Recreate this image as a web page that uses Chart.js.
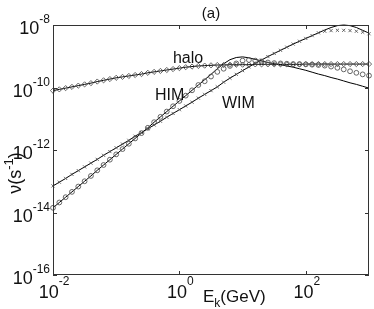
<!DOCTYPE html>
<html><head><meta charset="utf-8">
<script src="https://cdn.jsdelivr.net/npm/chart.js@4/dist/chart.umd.min.js"></script>
<style>html,body{margin:0;padding:0;background:#fff}canvas{display:block}</style>
</head><body>
<canvas id="c" width="374" height="309"></canvas>
<script>
// Kinetic energy E_k (GeV)
const energies = [0.01,0.01259,0.01585,0.01995,0.02512,0.03162,0.03981,0.05012,0.0631,0.07943,
  0.1,0.1259,0.1585,0.1995,0.2512,0.3162,0.3981,0.5012,0.631,0.7943,
  1,1.259,1.585,1.995,2.512,3.162,3.981,5.012,6.31,7.943,
  10,12.59,15.85,19.95,25.12,31.62,39.81,50.12,63.1,79.43,
  100,125.9,158.5,199.5,251.2,316.2,398.1,501.2,631,794.3,1000];
// log10 of nu (s^-1)
const haloExp = [-10.10,-10.06,-10.02,-9.98,-9.94,-9.90,-9.86,-9.81,-9.77,-9.73,
  -9.69,-9.66,-9.63,-9.60,-9.57,-9.53,-9.50,-9.47,-9.44,-9.41,
  -9.38,-9.35,-9.33,-9.31,-9.30,-9.29,-9.28,-9.28,-9.27,-9.27,
  -9.27,-9.27,-9.26,-9.26,-9.26,-9.26,-9.26,-9.26,-9.26,-9.26,
  -9.25,-9.25,-9.25,-9.25,-9.25,-9.25,-9.25,-9.25,-9.25,-9.25,-9.25];
const himLineExp = [-13.85,-13.68,-13.51,-13.34,-13.17,-13.00,-12.83,-12.65,-12.48,-12.31,
  -12.14,-11.97,-11.80,-11.63,-11.46,-11.29,-11.11,-10.94,-10.77,-10.60,
  -10.43,-10.26,-10.09,-9.92,-9.75,-9.58,-9.40,-9.24,-9.11,-9.04,
  -9.02,-9.05,-9.10,-9.15,-9.20,-9.24,-9.27,-9.31,-9.35,-9.40,
  -9.45,-9.51,-9.57,-9.62,-9.68,-9.73,-9.79,-9.85,-9.90,-9.96,-10.02];
const himMarkExp = [-13.85,-13.68,-13.51,-13.34,-13.17,-13.00,-12.83,-12.65,-12.48,-12.31,
  -12.14,-11.97,-11.80,-11.63,-11.46,-11.29,-11.11,-10.94,-10.77,-10.60,
  -10.43,-10.26,-10.09,-9.92,-9.80,-9.65,-9.50,-9.40,-9.31,-9.23,
  -9.14,-9.12,-9.14,-9.17,-9.20,-9.22,-9.23,-9.24,-9.25,-9.25,
  -9.26,-9.27,-9.28,-9.30,-9.33,-9.37,-9.42,-9.48,-9.53,-9.58,-9.62];
const wimLineExp = [-13.15,-13.03,-12.91,-12.78,-12.66,-12.54,-12.42,-12.30,-12.17,-12.05,
  -11.93,-11.81,-11.69,-11.56,-11.44,-11.32,-11.20,-11.08,-10.95,-10.83,
  -10.71,-10.59,-10.47,-10.34,-10.22,-10.10,-9.98,-9.83,-9.70,-9.58,
  -9.46,-9.34,-9.23,-9.12,-9.01,-8.91,-8.81,-8.71,-8.61,-8.52,
  -8.43,-8.34,-8.25,-8.16,-8.08,-8.02,-8.00,-8.02,-8.08,-8.17,-8.26];
const wimMarkExp = [-13.15,-13.03,-12.91,-12.78,-12.66,-12.54,-12.42,-12.30,-12.17,-12.05,
  -11.93,-11.81,-11.69,-11.56,-11.44,-11.32,-11.20,-11.08,-10.95,-10.83,
  -10.71,-10.59,-10.47,-10.34,-10.22,-10.10,-9.98,-9.83,-9.70,-9.58,
  -9.46,-9.34,-9.23,-9.12,-9.01,-8.91,-8.81,-8.71,-8.61,-8.52,
  -8.43,-8.34,-8.25,-8.20,-8.18,-8.17,-8.17,-8.18,-8.20,-8.23,-8.28];
const xTickExps = [-2, 0, 2];
const yTickExps = [-16, -14, -12, -10, -8];
const curveNames = ['halo', 'HIM', 'WIM'];

const pts = (exps) => energies.map((e, i) => ({x: e, y: Math.pow(10, exps[i])}));
const FONT = '"Liberation Sans", Arial, Helvetica, sans-serif';
const GREY = '#555';

const deco = {
  id: 'deco',
  afterDraw(chart) {
    const {ctx, chartArea: a, scales: {x, y}} = chart;
    ctx.save();
    ctx.strokeStyle = '#333';
    ctx.lineWidth = 1;
    ctx.strokeRect(a.left + 0.5, a.top + 0.5, a.right - a.left - 1, a.bottom - a.top - 1);
    const tl = 4;
    ctx.beginPath();
    yTickExps.forEach(e => {
      const py = Math.round(y.getPixelForValue(Math.pow(10, e))) + 0.5;
      ctx.moveTo(a.left, py); ctx.lineTo(a.left + tl, py);
      ctx.moveTo(a.right, py); ctx.lineTo(a.right - tl, py);
    });
    xTickExps.forEach(e => {
      const px = Math.round(x.getPixelForValue(Math.pow(10, e))) + 0.5;
      ctx.moveTo(px, a.bottom); ctx.lineTo(px, a.bottom - tl);
      ctx.moveTo(px, a.top); ctx.lineTo(px, a.top + tl);
    });
    ctx.stroke();

    ctx.fillStyle = '#111';
    ctx.textBaseline = 'alphabetic';
    ctx.textAlign = 'left';
    const bigF = '18px ' + FONT, supF = '12px ' + FONT;
    // y tick labels
    yTickExps.forEach(e => {
      const py = y.getPixelForValue(Math.pow(10, e));
      const sup = String(e);
      ctx.font = supF; const sw = ctx.measureText(sup).width;
      ctx.font = bigF; const bw = ctx.measureText('10').width;
      const right = a.left - 3;
      ctx.fillText('10', right - sw - bw, py + 9);
      ctx.font = supF; ctx.fillText(sup, right - sw, py - 2);
    });
    // x tick labels
    xTickExps.forEach(e => {
      const px = x.getPixelForValue(Math.pow(10, e));
      const sup = String(e);
      ctx.font = supF; const sw = ctx.measureText(sup).width;
      ctx.font = bigF; const bw = ctx.measureText('10').width;
      const left = px + 1 - (sw + bw) / 2;
      ctx.fillText('10', left, a.bottom + 23);
      ctx.font = supF; ctx.fillText(sup, left + bw, a.bottom + 10);
    });
    // x axis title E_k(GeV)
    ctx.font = '17px ' + FONT;
    let cx = 203;
    ctx.fillText('E', cx, 302); cx += ctx.measureText('E').width;
    ctx.font = '12px ' + FONT;
    ctx.fillText('k', cx, 307); cx += ctx.measureText('k').width;
    ctx.font = '17px ' + FONT;
    ctx.fillText('(GeV)', cx, 302);
    // y axis title ν(s^-1)
    ctx.save();
    ctx.translate(21, 173);
    ctx.rotate(-Math.PI / 2);
    ctx.font = '18px ' + FONT; const w1 = ctx.measureText('\u03bd(s').width, w3 = ctx.measureText(')').width;
    ctx.font = '13px ' + FONT; const w2 = ctx.measureText('-1').width;
    let sx = -(w1 + w2 + w3) / 2;
    ctx.font = '18px ' + FONT; ctx.fillText('\u03bd(s', sx, 0); sx += w1;
    ctx.font = '13px ' + FONT; ctx.fillText('-1', sx, -8); sx += w2;
    ctx.font = '18px ' + FONT; ctx.fillText(')', sx, 0);
    ctx.restore();
    // title
    ctx.font = '15px ' + FONT;
    ctx.textAlign = 'center';
    ctx.fillText('(a)', 211, 18);
    // curve labels
    ctx.textAlign = 'left';
    ctx.font = '16px ' + FONT;
    const lab = [[0.79, -9.22], [0.41, -10.4], [4.72, -10.66]];
    curveNames.forEach((n, i) => {
      ctx.fillText(n, x.getPixelForValue(lab[i][0]), y.getPixelForValue(Math.pow(10, lab[i][1])));
    });
    ctx.restore();
  }
};

new Chart(document.getElementById('c'), {
  type: 'line',
  data: {
    datasets: [
      {label: 'HIM model', data: pts(himLineExp), borderColor: '#000', borderWidth: 1, pointRadius: 0, order: 5},
      {label: 'WIM model', data: pts(wimLineExp), borderColor: '#000', borderWidth: 1, pointRadius: 0, order: 4},
      {label: 'halo', data: pts(haloExp), borderColor: '#000', borderWidth: 1, pointStyle: 'rectRot', pointRadius: 2.6,
        pointBorderColor: GREY, pointBackgroundColor: 'rgba(255,255,255,0)', pointBorderWidth: 0.9, order: 3},
      {label: 'HIM', data: pts(himMarkExp), showLine: false, pointStyle: 'circle', pointRadius: 2.4,
        pointBorderColor: GREY, pointBackgroundColor: 'rgba(255,255,255,0)', pointBorderWidth: 0.9, order: 2},
      {label: 'WIM', data: pts(wimMarkExp), showLine: false, pointStyle: 'crossRot', pointRadius: 2.2,
        pointBorderColor: GREY, pointBorderWidth: 0.9, order: 1}
    ]
  },
  options: {
    responsive: false,
    animation: false,
    devicePixelRatio: 1,
    clip: false,
    layout: {padding: {top: 25, right: 5, left: 0, bottom: 0}},
    plugins: {legend: {display: false}, tooltip: {enabled: false}, title: {display: false}},
    elements: {line: {tension: 0}},
    scales: {
      x: {type: 'logarithmic', min: 0.01, max: 1000, ticks: {display: false}, grid: {display: false}, border: {display: false},
        afterFit: s => { s.height = 34; }},
      y: {type: 'logarithmic', min: 1e-16, max: 1e-8, ticks: {display: false}, grid: {display: false}, border: {display: false},
        afterFit: s => { s.width = 53; }}
    }
  },
  plugins: [deco]
});
</script>
</body></html>
